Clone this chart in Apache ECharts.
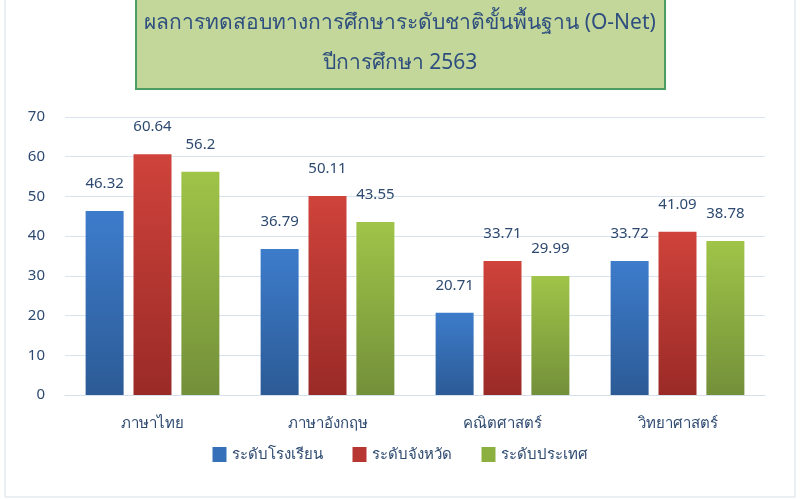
<!DOCTYPE html>
<html><head><meta charset="utf-8">
<script src="https://cdn.jsdelivr.net/npm/echarts@6/dist/echarts.min.js"></script>
<style>html,body{margin:0;padding:0;background:#fff}#c{width:800px;height:500px}</style>
</head><body><div id="c"></div>
<script>
const categories = ['ภาษาไทย', 'ภาษาอังกฤษ', 'คณิตศาสตร์', 'วิทยาศาสตร์'];
const schoolLevel = [46.32, 36.79, 20.71, 33.72];
const provinceLevel = [60.64, 50.11, 33.71, 41.09];
const nationLevel = [56.2, 43.55, 29.99, 38.78];
const seriesNames = ['ระดับโรงเรียน', 'ระดับจังหวัด', 'ระดับประเทศ'];
const titleText = 'ผลการทดสอบทางการศึกษาระดับชาติขั้นพื้นฐาน (O-Net)\nปีการศึกษา 2563';

const FONT = 'Tahoma, "Noto Sans", "DejaVu Sans", sans-serif';
const txt = '#2e4a70';
function grad(a, b) {
  return new echarts.graphic.LinearGradient(0, 0, 0, 1, [{offset: 0, color: a}, {offset: 1, color: b}]);
}
const colors = [grad('#3d7ccb', '#2c5b96'), grad('#cf433b', '#9a2a27'), grad('#9fc448', '#73903a')];
const legendColors = ['#3570b8', '#b83632', '#8cb040'];

const chart = echarts.init(document.getElementById('c'));
function mk(name, data, i) {
  return {
    name, type: 'bar', data,
    barWidth: 38, barGap: '26%',
    itemStyle: {color: colors[i]},
    label: {show: true, position: 'top', distance: 20, color: txt, fontSize: 15, fontFamily: FONT},
    emphasis: {disabled: true}
  };
}
chart.setOption({
  animation: false,
  textStyle: {fontFamily: FONT},
  graphic: [
    {type: 'rect', z: -10, shape: {x: 5, y: -2, width: 790, height: 499}, style: {fill: 'none', stroke: '#d6e0ea', lineWidth: 1}},
    {type: 'rect', z: -10, shape: {x: 136, y: -4, width: 529, height: 93}, style: {fill: '#c4d79b', stroke: '#4c9d62', lineWidth: 2}}
  ],
  title: {
    text: titleText, left: 'center', top: -2,
    textStyle: {color: '#2e4f7e', fontSize: 21, fontWeight: 'normal', lineHeight: 40, fontFamily: FONT}
  },
  legend: {
    bottom: 33, left: 'center', itemWidth: 14, itemHeight: 15, itemGap: 30,
    textStyle: {color: txt, fontSize: 15, fontFamily: FONT},
    data: seriesNames.map((n, i) => ({name: n, icon: 'rect', itemStyle: {color: legendColors[i]}}))
  },
  grid: {left: 65, right: 35, top: 117, bottom: 105, containLabel: false},
  xAxis: {
    type: 'category', data: categories,
    axisLine: {lineStyle: {color: '#d6e0ea'}}, axisTick: {show: false},
    axisLabel: {color: txt, fontSize: 15, margin: 21, fontFamily: FONT}
  },
  yAxis: {
    type: 'value', min: 0, max: 70, interval: 10,
    axisLine: {show: false}, axisTick: {show: false},
    splitLine: {lineStyle: {color: '#d9e3ee'}},
    axisLabel: {color: txt, fontSize: 15, margin: 20, fontFamily: FONT}
  },
  series: [mk(seriesNames[0], schoolLevel, 0), mk(seriesNames[1], provinceLevel, 1), mk(seriesNames[2], nationLevel, 2)]
});
</script></body></html>
